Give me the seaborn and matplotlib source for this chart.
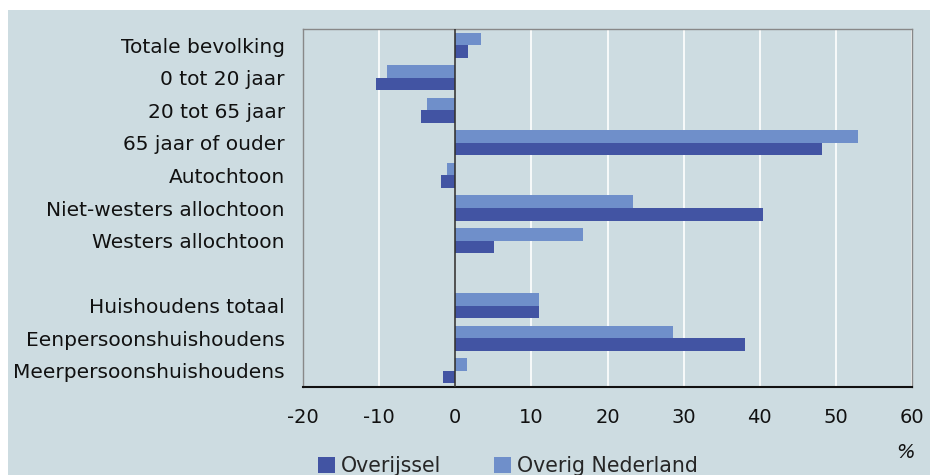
import numpy as np
import pandas as pd
import matplotlib
matplotlib.use("Agg")
import matplotlib.pyplot as plt
from matplotlib.patches import Patch, Rectangle
import seaborn as sns

sns.set_style("white")
plt.rcParams['font.family'] = ['DejaVu Sans']
plt.rcParams['axes.unicode_minus'] = False

# categories (blank one separates persons from households)
categories = ["Totale bevolking", "0 tot 20 jaar", "20 tot 65 jaar", "65 jaar of ouder",
              "Autochtoon", "Niet-westers allochtoon", "Westers allochtoon", "",
              "Huishoudens totaal", "Eenpersoonshuishoudens", "Meerpersoonshuishoudens"]
overijssel = [1.7, -10.4, -4.5, 48.2, -1.9, 40.4, 5.1, np.nan, 11.0, 38.0, -1.6]
overig_nl = [3.4, -8.9, -3.7, 52.9, -1.1, 23.4, 16.8, np.nan, 11.0, 28.6, 1.6]
xticks = [-20, -10, 0, 10, 20, 30, 40, 50, 60]

bg = "#cddce1"
c_dark = "#4254a3"
c_light = "#6f8fca"

df = pd.DataFrame({
    "cat": categories * 2,
    "val": overijssel + overig_nl,
    "reeks": ["Overijssel"] * len(categories) + ["Overig Nederland"] * len(categories),
})

fig = plt.figure(figsize=(9.3, 4.75), dpi=100)
fig.patch.set_facecolor("white")
# grey-blue panel behind the chart, white strip on top/left
fig.patches.append(Rectangle((8 / 930, 0), 1, 1 - 10 / 475, transform=fig.transFigure,
                             facecolor=bg, edgecolor="none", zorder=-10))

ax = fig.add_axes([303 / 930, 1 - 387 / 475, (912 - 303) / 930, (387 - 29) / 475])
ax.set_facecolor(bg)

sns.barplot(data=df, y="cat", x="val", hue="reeks", order=categories,
            hue_order=["Overig Nederland", "Overijssel"],
            palette={"Overijssel": c_dark, "Overig Nederland": c_light},
            orient="h", width=0.77, saturation=1, errorbar=None, ax=ax, legend=False,
            linewidth=0)

ax.set_xlim(-20, 60)
ax.set_xticks(xticks)
ax.set_xticklabels([str(t) for t in xticks])
ax.xaxis.grid(True, color="white", lw=1.2)
ax.set_axisbelow(True)
ax.axvline(0, color="#333333", lw=1.2, zorder=3)
ax.set_xlabel("")
ax.set_ylabel("")
ax.tick_params(axis="both", length=0, colors="#111111")
ax.tick_params(axis="y", pad=13, labelsize=14.5)
ax.tick_params(axis="x", pad=15, labelsize=14)
for s in ["left", "right", "top"]:
    ax.spines[s].set_color("#888888")
    ax.spines[s].set_linewidth(1)
ax.spines["bottom"].set_color("#111111")
ax.spines["bottom"].set_linewidth(1.5)

fig.text(905 / 930, 1 - 452 / 475, "%", fontsize=14, ha="center", va="center",
         color="#111111", style="italic")

handles = [Patch(facecolor=c_dark, edgecolor="none", label="Overijssel"),
           Patch(facecolor=c_light, edgecolor="none", label="Overig Nederland")]
fig.legend(handles=handles, loc="center", bbox_to_anchor=(508 / 930, 1 - 466 / 475),
           ncol=2, frameon=False, fontsize=14.8, handlelength=0.8, handleheight=0.8,
           handletextpad=0.3, columnspacing=2.6)

fig.savefig("out.png", dpi=100, facecolor=fig.get_facecolor())
